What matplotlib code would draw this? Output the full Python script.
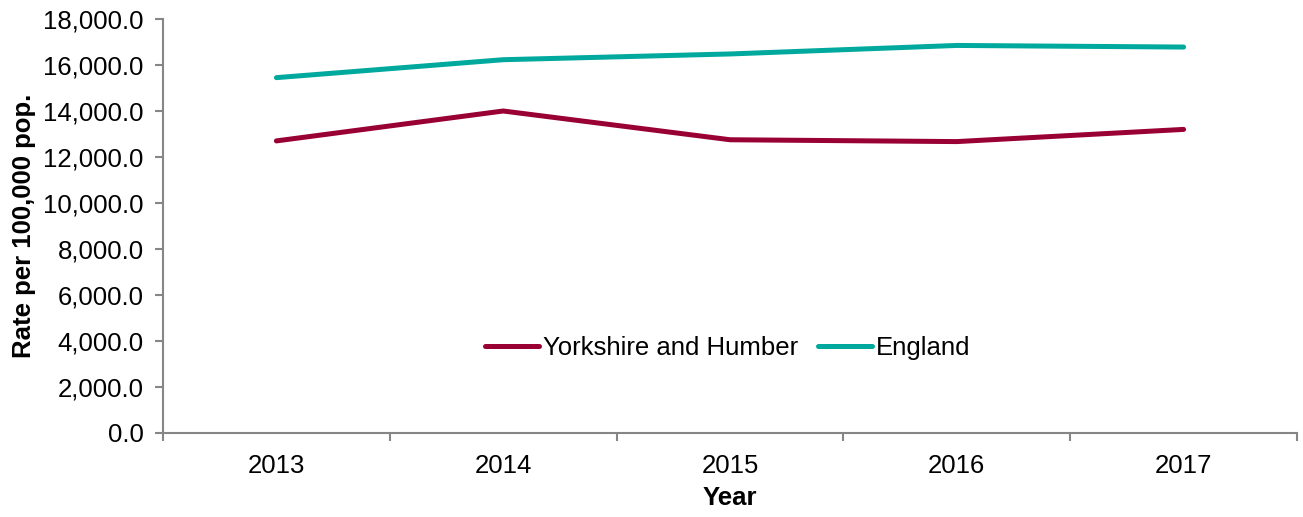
import matplotlib
matplotlib.use("Agg")
import matplotlib.pyplot as plt
from matplotlib.ticker import FuncFormatter

# ── data ──
years = ["2013", "2014", "2015", "2016", "2017"]
yorkshire = [12700, 14000, 12750, 12670, 13200]
england = [15450, 16230, 16480, 16850, 16780]

plt.rcParams["font.family"] = ["Liberation Sans", "DejaVu Sans"]
AXIS_GREY = "#868686"
FS = 18.5

fig = plt.figure(figsize=(13.03, 5.17), dpi=100)
ax = fig.add_axes([163 / 1303, 84 / 517, 1134 / 1303, 414 / 517])

x = range(len(years))
ax.plot(x, yorkshire, color="#990033", lw=3.6, solid_capstyle="round", label="Yorkshire and Humber")
ax.plot(x, england, color="#00A99D", lw=3.6, solid_capstyle="round", label="England")

ax.set_xlim(-0.5, len(years) - 0.5)
ax.set_ylim(0, 18000)
ax.set_yticks(range(0, 18001, 2000))
ax.yaxis.set_major_formatter(FuncFormatter(lambda v, p: f"{v:,.1f}"))

# category labels centred, tick marks between categories
ax.set_xticks([i - 0.5 for i in range(len(years) + 1)])
ax.set_xticklabels([])
ax.set_xticks(list(x), minor=True)
ax.set_xticklabels(years, minor=True)
ax.tick_params(axis="x", which="minor", length=0, pad=15, labelsize=FS)
ax.tick_params(axis="x", which="major", length=6, color=AXIS_GREY, width=1.5, direction="out")
ax.tick_params(axis="y", length=6, color=AXIS_GREY, width=1.5, labelsize=FS, pad=8)

for side in ["top", "right"]:
    ax.spines[side].set_visible(False)
for side in ["left", "bottom"]:
    ax.spines[side].set_color(AXIS_GREY)
    ax.spines[side].set_linewidth(1.5)

ax.set_xlabel("Year", fontsize=FS, fontweight="bold", labelpad=6)
ax.set_ylabel("Rate per 100,000 pop.", fontsize=FS, fontweight="bold", labelpad=5)

ax.legend(loc="center", bbox_to_anchor=(0.498, 0.205), ncol=2, frameon=False,
          fontsize=FS, handlelength=2.1, handletextpad=0.15, columnspacing=0.75)

plt.savefig("out.png", dpi=100)
